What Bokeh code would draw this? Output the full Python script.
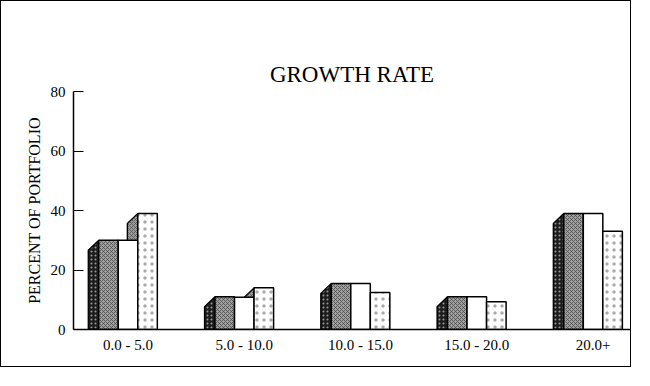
from bokeh.plotting import figure
from bokeh.models import Range1d, FixedTicker, Title
from bokeh.embed import file_html
from bokeh.resources import INLINE

# ---- data ----
categories = ["0.0 - 5.0", "5.0 - 10.0", "10.0 - 15.0", "15.0 - 20.0", "20.0+"]
series_gray = [30, 11, 15.5, 11, 39]
series_white = [30, 10.8, 15.5, 11, 39]
series_dotted = [39, 14, 12.4, 9.3, 33]
y_ticks = [0, 20, 40, 60, 80]

FONT = "Liberation Serif"
W, H = 631, 367

p = figure(width=W, height=H, output_backend="svg", toolbar_location=None,
           x_range=Range1d(-0.469, 4.322), y_range=Range1d(0, 80),
           min_border_left=72, min_border_right=2, min_border_top=90,
           min_border_bottom=39)
p.styles = {"border": "1.5px solid black"}
p.outline_line_color = None
p.xgrid.visible = False
p.ygrid.visible = False
p.background_fill_color = "white"
p.border_fill_color = "white"

# bar geometry (in x units of one category / y data units)
BW = 0.168
DX = 0.09
DY = 3.36

styles = [
    # (values, offset, front style, face style)
    (series_gray, -0.168,
     dict(fill_color="#a0a0a0", hatch_pattern="x", hatch_color="#4a4a4a", hatch_scale=4, hatch_weight=0.8),
     dict(fill_color="#1c1c1c", hatch_pattern="dot", hatch_color="#9a9a9a", hatch_scale=4, hatch_weight=1)),
    (series_white, 0.0,
     dict(fill_color="white"),
     dict(fill_color="#c8c8c8")),
    (series_dotted, 0.168,
     dict(fill_color="white", hatch_pattern="dot", hatch_color="#ababab", hatch_scale=7, hatch_weight=0.7),
     dict(fill_color="#9c9c9c", hatch_pattern="x", hatch_color="#505050", hatch_scale=4, hatch_weight=0.8)),
]

# side faces first (they sit behind neighbouring fronts)
for vals, off, front, face in styles:
    xs, ys = [], []
    for i, v in enumerate(vals):
        xl = i + off - BW / 2
        xs.append([xl - DX, xl - DX, xl, xl])
        ys.append([0, max(v - DY, 0), v, 0])
    p.patches(xs, ys, line_color="black", line_width=1.3, **face)

for vals, off, front, face in styles:
    idx = list(range(len(vals)))
    p.quad(left=[i + off - BW / 2 for i in idx], right=[i + off + BW / 2 for i in idx],
           bottom=[0] * len(vals), top=vals, line_color="black", line_width=1.5, **front)

# axes
p.yaxis.ticker = FixedTicker(ticks=y_ticks)
p.yaxis.minor_tick_line_color = None
p.yaxis.major_tick_in = 10
p.yaxis.major_tick_out = 0
p.yaxis.major_label_standoff = 8
p.yaxis.axis_line_width = 1.5
p.yaxis.major_tick_line_width = 1.2
p.yaxis.major_label_text_font = FONT
p.yaxis.major_label_text_font_size = "15px"
p.yaxis.major_label_text_color = "black"
p.yaxis.axis_label = "PERCENT OF PORTFOLIO"
p.yaxis.axis_label_text_font = FONT
p.yaxis.axis_label_text_font_size = "16px"
p.yaxis.axis_label_text_font_style = "normal"
p.yaxis.axis_label_text_color = "black"
p.yaxis.axis_label_standoff = 5

p.xaxis.ticker = FixedTicker(ticks=list(range(len(categories))))
p.xaxis.major_label_overrides = {i: c for i, c in enumerate(categories)}
p.xaxis.minor_tick_line_color = None
p.xaxis.major_tick_in = 0
p.xaxis.major_tick_out = 0
p.xaxis.major_label_standoff = 7
p.xaxis.axis_line_width = 1.5
p.xaxis.major_label_text_font = FONT
p.xaxis.major_label_text_font_size = "15px"
p.xaxis.major_label_text_color = "black"

# title: the figure's own title is stacked outermost; an invisible spacer
# title sits between it and the frame
p.title.text = "GROWTH RATE"
p.title.align = "center"
p.title.text_font = FONT
p.title.text_font_size = "23px"
p.title.text_font_style = "normal"
p.title.text_color = "black"
p.add_layout(Title(text="x", text_font_size="8px", text_alpha=0), "above")

open("out.html", "w").write(file_html(p, INLINE))
